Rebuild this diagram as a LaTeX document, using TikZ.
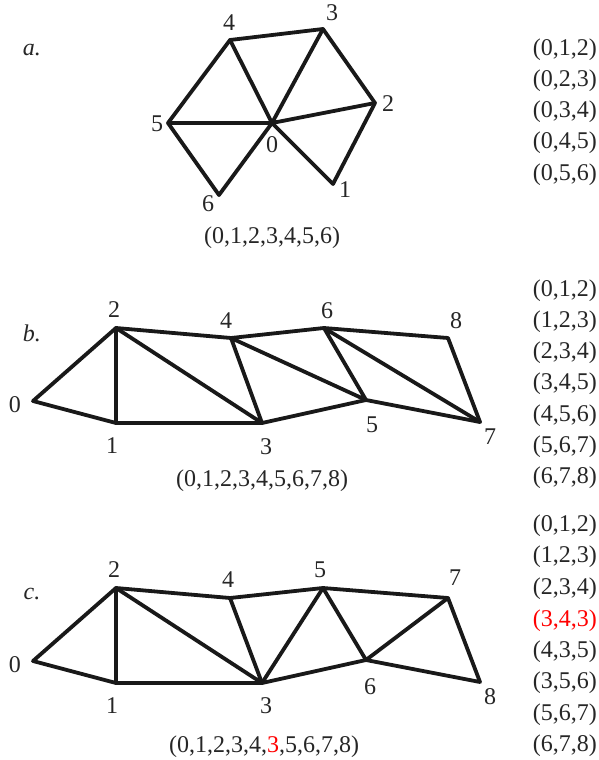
\documentclass[tikz,border=0pt]{standalone}
\usepackage{fontspec}
\setmainfont{Liberation Serif}
\begin{document}
\begin{tikzpicture}[x=1pt,y=-1pt,
  edge/.style={line width=3.8pt,line join=round,line cap=round,black!90},
  lbl/.style={font=\fontsize{24}{26}\selectfont,inner sep=0pt,text=black!85},
  lst/.style={font=\fontsize{24}{26}\selectfont,inner sep=0pt,anchor=east,text=black!85}]
\useasboundingbox (0,0) rectangle (599,760);
% ---------- panel a ----------
\node[lbl] (la) at (32,50) {\textit{a.}};
\coordinate (a0) at (272,123);
\coordinate (a1) at (333,184);
\coordinate (a2) at (375,103);
\coordinate (a3) at (323,29);
\coordinate (a4) at (230,40);
\coordinate (a5) at (168,123);
\coordinate (a6) at (219,195);
\draw[edge] (a4) -- (a3) -- (a2) -- (a1) -- (a0) -- (a6) -- (a5) -- cycle;
\draw[edge] (a5) -- (a0) -- (a4);
\draw[edge] (a3) -- (a0) -- (a2);
\node[lbl] at (229,23) {4};
\node[lbl] at (332,13) {3};
\node[lbl] at (388,104) {2};
\node[lbl] at (157,124) {5};
\node[lbl] at (272,145) {0};
\node[lbl] at (208,204) {6};
\node[lbl] at (345,190) {1};
\node[lbl] (ca) at (272,238) {(0,1,2,3,4,5,6)};
\node[lst] at (597,50) {(0,1,2)};
\node[lst] at (597,81) {(0,2,3)};
\node[lst] at (597,112) {(0,3,4)};
\node[lst] at (597,143) {(0,4,5)};
\node[lst] at (597,175) {(0,5,6)};
% ---------- panel b ----------
\node[lbl] (lb) at (32,333) {\textit{b.}};
\coordinate (b0) at (33,401);
\coordinate (b1) at (116,423);
\coordinate (b2) at (116,328);
\coordinate (b3) at (262,423);
\coordinate (b4) at (231,338);
\coordinate (b5) at (366,400);
\coordinate (b6) at (324,328);
\coordinate (b7) at (480,422);
\coordinate (b8) at (448,338);
\draw[edge] (b0) -- (b2) -- (b4) -- (b6) -- (b8) -- (b7) -- (b5) -- (b3) -- (b1) -- cycle;
\draw[edge] (b1) -- (b2) -- (b3) -- (b4) -- (b5) -- (b6) -- (b7);
\node[lbl] at (15,405) {0};
\node[lbl] at (112,446) {1};
\node[lbl] at (114,310) {2};
\node[lbl] at (266,447) {3};
\node[lbl] at (226,321) {4};
\node[lbl] at (372,425) {5};
\node[lbl] at (327,311) {6};
\node[lbl] at (490,437) {7};
\node[lbl] at (456,321) {8};
\node[lbl] (cb) at (262,481) {(0,1,2,3,4,5,6,7,8)};
\node[lst] at (597,291) {(0,1,2)};
\node[lst] at (597,322) {(1,2,3)};
\node[lst] at (597,353) {(2,3,4)};
\node[lst] at (597,384) {(3,4,5)};
\node[lst] at (597,416) {(4,5,6)};
\node[lst] at (597,447) {(5,6,7)};
\node[lst] at (597,478) {(6,7,8)};
% ---------- panel c ----------
\node[lbl] (lc) at (32,594) {\textit{c.}};
\coordinate (c0) at (33,661);
\coordinate (c1) at (116,683);
\coordinate (c2) at (116,588);
\coordinate (c3) at (262,683);
\coordinate (c4) at (230,598);
\coordinate (c5) at (323,588);
\coordinate (c6) at (366,660);
\coordinate (c7) at (448,598);
\coordinate (c8) at (480,682);
\draw[edge] (c0) -- (c2) -- (c4) -- (c5) -- (c7) -- (c8) -- (c6) -- (c3) -- (c1) -- cycle;
\draw[edge] (c1) -- (c2) -- (c3) -- (c4);
\draw[edge] (c3) -- (c5) -- (c6) -- (c7);
\node[lbl] at (15,665) {0};
\node[lbl] at (112,706) {1};
\node[lbl] at (114,570) {2};
\node[lbl] at (266,706) {3};
\node[lbl] at (228,580) {4};
\node[lbl] at (320,570) {5};
\node[lbl] at (370,687) {6};
\node[lbl] at (455,578) {7};
\node[lbl] at (490,697) {8};
\node[lbl] (cc) at (264,747) {(0,1,2,3,4,\textcolor{red}{3},5,6,7,8)};
\node[lst] at (597,526) {(0,1,2)};
\node[lst] at (597,557) {(1,2,3)};
\node[lst] at (597,589) {(2,3,4)};
\node[lst,text=red] at (597,621) {(3,4,3)};
\node[lst] at (597,652) {(4,3,5)};
\node[lst] at (597,683) {(3,5,6)};
\node[lst] at (597,715) {(5,6,7)};
\node[lst] at (597,746) {(6,7,8)};
\end{tikzpicture}
\end{document}
